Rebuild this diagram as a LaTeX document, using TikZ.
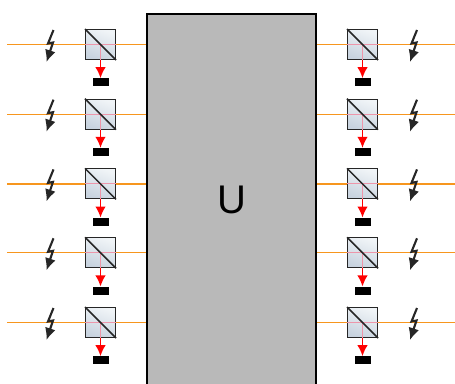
\documentclass[tikz,border=0pt]{standalone}
\usepackage{fontspec}
\setmainfont{Liberation Sans}
\usetikzlibrary{arrows.meta}
\definecolor{beamorange}{RGB}{247,150,30}
\definecolor{beampink}{RGB}{238,150,170}
\definecolor{unitgray}{RGB}{185,185,185}
\definecolor{cubelow}{RGB}{200,211,223}
\definecolor{cubehigh}{RGB}{240,244,247}
\tikzset{
  beam/.style={draw=beamorange, line width=1.2pt},
  cube/.style={draw=black!85, line width=1pt, minimum size=30pt, inner sep=0pt, shading=axis, bottom color=cubelow, top color=cubehigh, shading angle=-20},
  sink/.style={fill=black, minimum width=16pt, minimum height=8pt, inner sep=0pt},
  unit/.style={draw=black, fill=unitgray, line width=1.6pt, minimum width=169pt, minimum height=371pt, inner sep=0pt},
  bolt/.style={draw=black!85, line width=2.1pt, -{Latex[length=12pt,width=11pt]}},
  ray/.style={draw=red, line width=1.4pt, -{Latex[length=11pt,width=10.5pt]}},
}
\begin{document}
\begin{tikzpicture}[x=1pt, y=-1pt]
  \useasboundingbox (0,0) rectangle (455,383);
  % beams first
  \foreach \i/\y in {1/44.5,2/114.2,3/183.9,4/252.8,5/322.5} {
    \coordinate (inL\i) at (7,\y);
    \coordinate (inR\i) at (455,\y);
    \coordinate (portL\i) at (147,\y);
    \coordinate (portR\i) at (316,\y);
    \draw[beam] (inL\i) -- (portL\i);
    \draw[beam] (portR\i) -- (inR\i);
  }
  \foreach \i/\y in {1/44.5,2/114.2,3/183.9,4/252.8,5/322.5} {
    % left arm
    \node[cube] (cubeL\i) at (100.5,\y) {};
    \draw[draw=beampink, line width=1pt] (cubeL\i.west) -- (cubeL\i.east);
    \draw[draw=beampink, line width=1pt] (cubeL\i.center) -- (cubeL\i.south);
    \draw[draw=black!85, line width=1.5pt] (cubeL\i.north west) -- (cubeL\i.south east);
    \node[sink] (sinkL\i) at (100.5,\y+37.8) {};
    \draw[ray] (cubeL\i.south) -- (sinkL\i.north);
    \coordinate (boltLa\i) at (53.5,\y-14.5);
    \coordinate (boltLb\i) at (48,\y-1);
    \coordinate (boltLc\i) at (53,\y-2);
    \coordinate (boltLd\i) at (46.5,\y+17.5);
    \draw[bolt] (boltLa\i) -- (boltLb\i) -- (boltLc\i) -- (boltLd\i);
    % right arm
    \node[cube] (cubeR\i) at (362.5,\y) {};
    \draw[draw=beampink, line width=1pt] (cubeR\i.west) -- (cubeR\i.east);
    \draw[draw=beampink, line width=1pt] (cubeR\i.center) -- (cubeR\i.south);
    \draw[draw=black!85, line width=1.5pt] (cubeR\i.north west) -- (cubeR\i.south east);
    \node[sink] (sinkR\i) at (362.5,\y+37.8) {};
    \draw[ray] (cubeR\i.south) -- (sinkR\i.north);
    \coordinate (boltRa\i) at (417,\y-14.5);
    \coordinate (boltRb\i) at (411.5,\y-1);
    \coordinate (boltRc\i) at (416.5,\y-2);
    \coordinate (boltRd\i) at (410,\y+17.5);
    \draw[bolt] (boltRa\i) -- (boltRb\i) -- (boltRc\i) -- (boltRd\i);
  }
  \node[unit, font=\fontsize{40}{40}\selectfont] (U) at (231.5,199.5) {U};
\end{tikzpicture}
\end{document}
